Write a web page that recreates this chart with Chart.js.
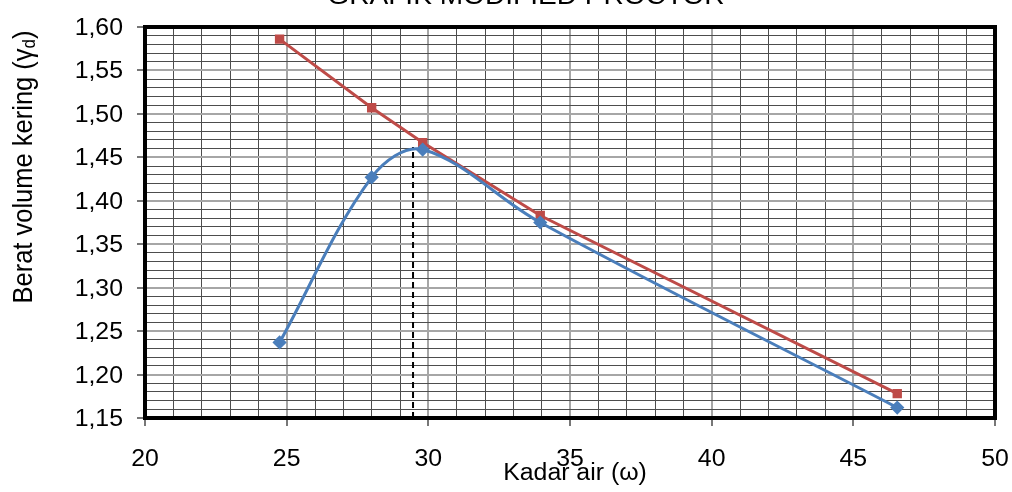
<!DOCTYPE html>
<html>
<head>
<meta charset="utf-8">
<script src="https://cdn.jsdelivr.net/npm/chart.js@4"></script>
<style>
  html, body { margin: 0; padding: 0; background: #fff; }
  #wrap { width: 1012px; height: 492px; }
</style>
</head>
<body>
<div id="wrap"><canvas id="proctorChart" width="1012" height="492"></canvas></div>
<script>
// data
const kadarAir = [24.75, 28.0, 29.8, 33.95, 46.55];
const beratKering = [1.237, 1.427, 1.459, 1.375, 1.162];
const garisZav = [1.586, 1.507, 1.467, 1.383, 1.178];
const wOptimum = 29.46;
const gammaMaks = 1.462;
const xRange = [20, 50];
const yRange = [1.15, 1.60];

const judul = 'GRAFIK MODIFIED PROCTOR';
const judulX = 'Kadar air (\u03c9)';
const judulY = 'Berat volume kering (\u03b3';
const subY = 'd';

const FONT = '"Liberation Sans", Arial, sans-serif';
const SX = 1.08; // the original text is a little wider than it is tall

const biru = kadarAir.map((x, i) => ({ x: x, y: beratKering[i] }));
const merah = kadarAir.map((x, i) => ({ x: x, y: garisZav[i] }));
const garisPutus = [{ x: wOptimum, y: yRange[0] }, { x: wOptimum, y: gammaMaks }];

function isMajorY(v) { return Math.round(v * 100) % 5 === 0; }
function isMajorX(v) { return Math.round(v) % 5 === 0; }

function tulis(ctx, text, x, y, size, align) {
    ctx.save();
    ctx.translate(x, y);
    ctx.scale(SX, 1);
    ctx.font = size + 'px ' + FONT;
    ctx.textAlign = align;
    ctx.textBaseline = 'alphabetic';
    ctx.fillText(text, 0, 0);
    ctx.restore();
}

const textPlugin = {
    id: 'textPlugin',
    afterDraw(chart) {
        const ctx = chart.ctx;
        const a = chart.chartArea;
        const xs = chart.scales.x;
        const ys = chart.scales.y;
        ctx.save();
        // frame
        ctx.strokeStyle = '#000';
        ctx.lineWidth = 4;
        ctx.strokeRect(a.left, a.top, a.right - a.left, a.bottom - a.top);
        ctx.fillStyle = '#000';

        // tick labels
        xs.ticks.forEach(t => {
            if (isMajorX(t.value)) {
                tulis(ctx, String(Math.round(t.value)), xs.getPixelForValue(t.value), 466, 23, 'center');
            }
        });
        ys.ticks.forEach(t => {
            if (isMajorY(t.value)) {
                tulis(ctx, t.value.toFixed(2).replace('.', ','), 123, ys.getPixelForValue(t.value) + 8, 23, 'right');
            }
        });

        // title, cut off at top
        tulis(ctx, judul, 526, 4, 26, 'center');

        // x title
        tulis(ctx, judulX, 575, 480, 23, 'center');

        // y title (rotated)
        ctx.translate(32, 167);
        ctx.rotate(-Math.PI / 2);
        ctx.scale(1, SX);
        ctx.font = '25.5px ' + FONT;
        const w1 = ctx.measureText(judulY).width;
        ctx.font = '17px ' + FONT;
        const w2 = ctx.measureText(subY).width;
        ctx.font = '25.5px ' + FONT;
        const w3 = ctx.measureText(')').width;
        const x0 = -(w1 + w2 + w3) / 2;
        ctx.textAlign = 'left';
        ctx.fillText(judulY, x0, 0);
        ctx.font = '17px ' + FONT;
        ctx.fillText(subY, x0 + w1, 3);
        ctx.font = '25.5px ' + FONT;
        ctx.fillText(')', x0 + w1 + w2, 0);
        ctx.restore();
    }
};

new Chart(document.getElementById('proctorChart'), {
    type: 'line',
    data: {
        datasets: [
            {
                label: 'Berat volume kering',
                data: biru,
                borderColor: '#4a7ebb',
                backgroundColor: '#4a7ebb',
                borderWidth: 3,
                tension: 0.35,
                pointStyle: 'rectRot',
                pointRadius: 5,
                order: 1
            },
            {
                label: 'ZAV',
                data: merah,
                borderColor: '#be4b48',
                backgroundColor: '#be4b48',
                borderWidth: 3,
                tension: 0,
                pointStyle: 'rect',
                pointRadius: 4.5,
                order: 2
            },
            {
                label: 'optimum',
                data: garisPutus,
                borderColor: '#000',
                borderWidth: 2,
                borderDash: [6, 4],
                pointRadius: 0,
                order: 3
            }
        ]
    },
    options: {
        responsive: false,
        animation: false,
        devicePixelRatio: 1,
        layout: { padding: { top: 27, right: 17, left: 0, bottom: 0 } },
        plugins: {
            legend: { display: false },
            tooltip: { enabled: false }
        },
        scales: {
            x: {
                type: 'linear',
                min: xRange[0],
                max: xRange[1],
                afterFit: s => { s.height = 74; },
                border: { display: false },
                grid: {
                    color: c => isMajorX(c.tick.value) ? '#a6a6a6' : '#4d4d4d',
                    lineWidth: c => isMajorX(c.tick.value) ? 2 : 1,
                    tickColor: c => isMajorX(c.tick.value) ? '#777' : 'rgba(0,0,0,0)',
                    tickLength: 8
                },
                ticks: {
                    display: false,
                    stepSize: 1,
                    maxTicksLimit: 100,
                    autoSkip: false
                }
            },
            y: {
                type: 'linear',
                min: yRange[0],
                max: yRange[1],
                afterFit: s => { s.width = 145; },
                border: { display: false },
                grid: {
                    color: c => isMajorY(c.tick.value) ? '#a6a6a6' : '#4d4d4d',
                    lineWidth: c => isMajorY(c.tick.value) ? 2 : 1,
                    tickColor: c => isMajorY(c.tick.value) ? '#777' : 'rgba(0,0,0,0)',
                    tickLength: 8
                },
                ticks: {
                    display: false,
                    stepSize: 0.01,
                    maxTicksLimit: 100,
                    autoSkip: false
                }
            }
        }
    },
    plugins: [textPlugin]
});
</script>
</body>
</html>
